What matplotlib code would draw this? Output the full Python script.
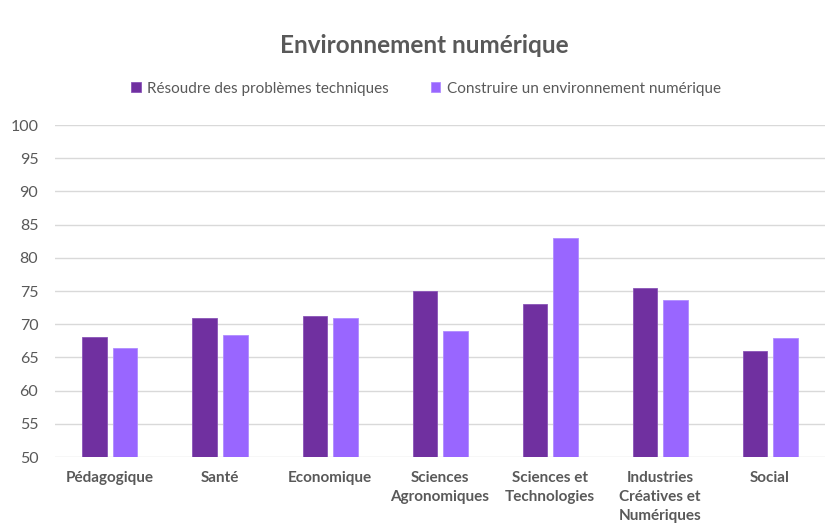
import matplotlib
matplotlib.use("Agg")
import matplotlib.pyplot as plt
import numpy as np

categories = ["Pédagogique", "Santé", "Economique", "Sciences\nAgronomiques",
              "Sciences et\nTechnologies", "Industries\nCréatives et\nNumériques", "Social"]
series_names = ["Résoudre des problèmes techniques", "Construire un environnement numérique"]
resoudre = [68.0, 71.0, 71.2, 75.0, 73.1, 75.4, 65.9]
construire = [66.4, 68.4, 70.9, 69.0, 83.0, 73.7, 67.9]
yticks = list(range(50, 101, 5))

plt.rcParams['font.family'] = ['Lato', 'DejaVu Sans']
txt = "#595959"

fig = plt.figure(figsize=(8.37, 5.27), dpi=100)
ax = fig.add_axes([0.0657, 0.1328, 0.92, 0.630])

x = np.arange(len(categories))
w = 0.22
off = 0.14
ax.bar(x - off, np.array(resoudre) - 50, w, bottom=50, color="#7030A0",
       edgecolor="#8a55b8", linewidth=0.6, label=series_names[0], zorder=3)
ax.bar(x + off, np.array(construire) - 50, w, bottom=50, color="#9966FF",
       edgecolor="#b08cff", linewidth=0.6, label=series_names[1], zorder=3)

ax.set_xlim(-0.5, len(categories) - 0.5)
ax.set_ylim(50, 100)
ax.set_yticks(yticks)
ax.set_yticklabels([str(v) for v in yticks], fontsize=11.5, color=txt)
ax.set_xticks(x)
ax.set_xticklabels(categories, fontsize=11, fontweight="bold", color=txt, linespacing=1.45)
ax.tick_params(length=0, pad=12, axis="y")
ax.tick_params(length=0, pad=10, axis="x")
ax.grid(axis="y", color="#d9d9d9", linewidth=1, zorder=0)
for s in ax.spines.values():
    s.set_visible(False)

fig.text(0.507, 0.913, "Environnement numérique", ha="center", va="center",
         fontsize=17.5, fontweight="bold", color=txt)
fig.legend(loc="center", bbox_to_anchor=(0.509, 0.832), ncol=2, frameon=False,
           fontsize=11, handlelength=0.6, handleheight=0.6, columnspacing=2.8,
           handletextpad=0.4, labelcolor=txt)

fig.savefig("out.png", dpi=100)
